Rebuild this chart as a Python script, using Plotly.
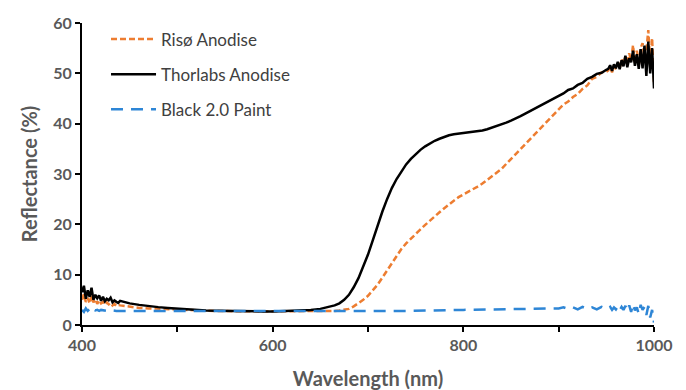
import plotly.graph_objects as go

# Sampling grid (nm)
wavelength = [400, 402, 404, 406, 408, 410, 412, 414, 416, 418, 420, 422, 424, 426, 428, 430, 432, 434, 436, 438, 440,
              450, 460, 470, 480, 490, 500, 510, 520, 530, 540, 550, 560, 570, 580, 590, 600, 610, 620, 630, 640, 650,
              655, 660, 665, 670, 675, 680, 685, 690, 695, 700, 705, 710, 715, 720, 725, 730, 735, 740, 745, 750,
              755, 760, 765, 770, 775, 780, 785, 790, 795, 800, 805, 810, 815, 820, 825, 830, 835, 840, 845, 850,
              855, 860, 865, 870, 875, 880, 885, 890, 895, 900, 905, 910, 915, 920, 925, 930, 935, 940, 945, 950,
              952, 954, 956, 958, 960, 962, 964, 966, 968, 970, 972, 974, 976, 978, 980, 982, 984, 986, 988, 990,
              992, 994, 996, 998, 1000]

riso = [5.0, 6.2, 4.6, 5.4, 4.3, 5.8, 4.5, 5.1, 4.2, 4.9, 4.3, 4.6, 4.0, 4.5, 4.1, 4.4, 3.9, 4.2, 3.8, 4.0, 3.9,
        3.6, 3.4, 3.3, 3.2, 3.1, 3.0, 2.95, 2.9, 2.85, 2.8, 2.75, 2.7, 2.7, 2.7, 2.7, 2.7, 2.7, 2.7, 2.7, 2.7, 2.7,
        2.7, 2.75, 2.8, 2.9, 3.0, 3.2, 3.7, 4.3, 5.0, 5.8, 6.8, 8.0, 9.4, 10.8, 12.2, 13.7, 15.1, 16.2, 17.2, 18.1,
        19.0, 19.9, 20.8, 21.6, 22.4, 23.2, 24.0, 24.7, 25.4, 25.9, 26.4, 27.0, 27.5, 28.1, 28.8, 29.5, 30.3, 31.0, 32.0, 33.0,
        34.0, 35.0, 36.0, 36.9, 37.8, 38.8, 39.8, 40.8, 41.8, 42.8, 43.8, 44.4, 45.3, 45.9, 46.9, 47.6, 48.9, 49.3, 50.2, 50.3,
        50.6, 51.3, 50.2, 51.6, 50.8, 52.0, 51.0, 52.8, 51.5, 53.5, 51.8, 54.0, 52.5, 55.6, 52.0, 54.5, 51.5, 55.0, 56.0, 53.0,
        54.5, 58.6, 52.0, 57.0, 48.0]

thorlabs = [6.5, 7.8, 5.2, 6.9, 5.6, 7.4, 5.0, 6.0, 5.3, 5.9, 4.8, 5.6, 4.7, 5.2, 4.9, 5.4, 4.5, 4.9, 4.6, 4.4, 4.8,
            4.3, 4.0, 3.75, 3.55, 3.4, 3.25, 3.1, 3.0, 2.9, 2.85, 2.8, 2.75, 2.7, 2.7, 2.7, 2.7, 2.75, 2.8, 2.9, 3.0, 3.2,
            3.4, 3.6, 3.9, 4.3, 5.0, 6.0, 7.5, 9.3, 11.5, 14.0, 16.8, 19.7, 22.5, 25.0, 27.2, 29.0, 30.5, 31.9, 33.0, 34.0,
            34.8, 35.5, 36.1, 36.6, 37.0, 37.4, 37.7, 37.9, 38.0, 38.1, 38.2, 38.3, 38.45, 38.65, 38.9, 39.2, 39.5, 39.85, 40.2, 40.6,
            41.0, 41.5, 42.0, 42.5, 43.0, 43.6, 44.0, 44.6, 45.0, 45.6, 46.0, 46.7, 47.0, 47.7, 48.1, 48.9, 49.3, 49.9, 50.1, 50.7,
            50.9, 51.6, 50.5, 51.8, 51.0, 52.3, 50.8, 52.6, 51.4, 53.5, 51.2, 53.0, 52.2, 54.5, 51.5, 53.8, 50.9, 54.8, 51.0, 55.5,
            49.5, 56.3, 50.0, 55.0, 47.0]

black20 = [3.0, 2.6, 3.3, 2.8, 3.2, 2.7, 3.1, 2.9, 3.0, 2.8, 3.0, 2.9, 2.9, 2.8, 2.9, 2.8, 2.9, 2.8, 2.8, 2.8, 2.8,
           2.8, 2.8, 2.8, 2.78, 2.76, 2.75, 2.74, 2.73, 2.72, 2.71, 2.7, 2.69, 2.68, 2.67, 2.66, 2.65, 2.65, 2.65, 2.65, 2.65, 2.65,
           2.65, 2.65, 2.66, 2.67, 2.68, 2.69, 2.7, 2.7, 2.71, 2.72, 2.73, 2.74, 2.75, 2.76, 2.77, 2.78, 2.79, 2.8, 2.82, 2.85,
           2.87, 2.89, 2.91, 2.93, 2.95, 2.97, 2.98, 2.99, 3.0, 3.0, 3.02, 3.04, 3.06, 3.08, 3.1, 3.12, 3.14, 3.16, 3.18, 3.2,
           3.22, 3.24, 3.26, 3.28, 3.3, 3.3, 3.32, 3.3, 3.35, 3.3, 3.5, 3.2, 3.5, 3.1, 3.6, 3.2, 3.5, 3.1, 3.6, 3.2,
           3.3, 3.6, 3.0, 3.5, 3.1, 3.7, 2.9, 3.6, 3.0, 3.8, 2.8, 3.9, 2.6, 4.2, 2.9, 3.5, 2.2, 4.0, 3.0, 3.6,
           2.0, 3.8, 1.5, 3.0, 0.5]

x_tick_vals = [400, 600, 800, 1000]
y_tick_vals = [0, 10, 20, 30, 40, 50, 60]

fig = go.Figure()
fig.add_trace(go.Scatter(x=wavelength, y=riso, mode="lines", name="Risø Anodise", legendgroup="a",
                         line=dict(color="#ED7D31", width=2.5, dash="6px,3px")))
fig.add_trace(go.Scatter(x=wavelength, y=thorlabs, mode="lines", name="Thorlabs Anodise", legendgroup="b",
                         line=dict(color="#000000", width=2.5)))
fig.add_trace(go.Scatter(x=wavelength, y=black20, mode="lines", name="Black 2.0 Paint", legendgroup="c",
                         line=dict(color="#2E86D6", width=2.5, dash="12px,8px")))

axis_font = dict(family="Lato", size=16, color="#595959")
title_font = dict(family="Lato", size=20, color="#595959")
fig.update_layout(
    width=686, height=390,
    margin=dict(l=82, r=32, t=23, b=65),
    paper_bgcolor="white", plot_bgcolor="white",
    font=dict(family="Lato", color="#595959"),
    showlegend=True,
    legend=dict(x=0.042, y=1.005, xanchor="left", yanchor="top", traceorder="grouped", tracegroupgap=10,
                itemwidth=45,
                font=dict(family="Lato", size=17, color="#404040"), bgcolor="rgba(0,0,0,0)"),
    xaxis=dict(range=[400, 1000], tickvals=x_tick_vals, ticktext=[f"<b>{v}</b>" for v in x_tick_vals],
               showline=True, linecolor="black", linewidth=2, mirror=False,
               ticks="outside", ticklen=5, tickwidth=2, tickcolor="black", showgrid=False, zeroline=False,
               tickfont=axis_font,
               minor=dict(dtick=100, tick0=400, ticks="outside", ticklen=5, tickwidth=2, tickcolor="black", showgrid=False),
               title=dict(text="<b>Wavelength (nm)</b>", font=title_font, standoff=23),
               automargin=False),
    yaxis=dict(range=[0, 60], tickvals=y_tick_vals, ticktext=[f"<b>{v}</b>" for v in y_tick_vals],
               showline=True, linecolor="black", linewidth=2,
               ticks="outside", ticklen=5, tickwidth=2, tickcolor="black", showgrid=False, zeroline=False,
               tickfont=axis_font,
               title=dict(text="<b>Reflectance (%)</b>", font=title_font, standoff=10),
               automargin=False),
)

fig.write_html("out.html")
